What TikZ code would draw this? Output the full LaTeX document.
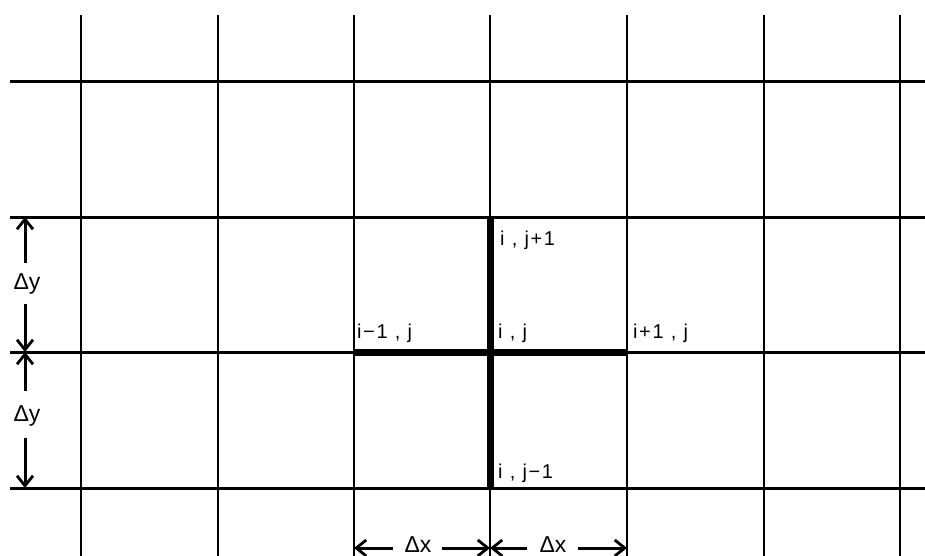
\documentclass[tikz,border=0pt]{standalone}
\usepackage{fontspec}
\setmainfont{Liberation Sans}
\newfontfamily\lblfont[LetterSpace=8]{Liberation Sans}
\usetikzlibrary{arrows.meta}
\begin{document}
\begin{tikzpicture}[x=1pt,y=-1pt,
  vline/.style={line width=1.7pt},
  hline/.style={line width=3pt},
  thick link/.style={line width=7pt},
  lbl/.style={anchor=base west,inner sep=0pt,font=\lblfont\fontsize{20}{22}\selectfont},
  dlbl/.style={inner sep=1pt,font=\fontsize{23}{25}\selectfont},
  dim/.style={line width=3pt,-{Straight Barb[length=10pt,width=16pt,line width=2.8pt]}}]
\useasboundingbox (0,0) rectangle (925,556);
\fill[white] (0,0) rectangle (925,556);
% grid
\foreach \x in {81,218,354,490,627,764,900}
  \draw[vline] (\x,15) -- (\x,556);
\foreach \y in {82,217,352,488}
  \draw[hline] (10,\y) -- (925,\y);
% grid points
\coordinate (c) at (490,352);
\coordinate (n) at (490,217);
\coordinate (s) at (490,488);
\coordinate (w) at (354,352);
\coordinate (e) at (627,352);
\draw[thick link] (n) -- (s);
\draw[thick link] (w) -- (e);
% labels
\node[lbl] (ljp) at (500,245) {i , j+1};
\node[lbl] (lim) at (357,338) {i−1 , j};
\node[lbl] (lij) at (498,338) {i , j};
\node[lbl] (lip) at (633,338) {i+1 , j};
\node[lbl] (ljm) at (498,478) {i , j−1};
% dimension dy
\coordinate (y1) at (25,217);
\coordinate (y2) at (25,352);
\coordinate (y3) at (25,488);
\node[dlbl] (dy1) at (27,284) {Δy};
\node[dlbl] (dy2) at (27,416) {Δy};
\draw[dim] (25,263) -- (y1);
\draw[dim] (25,304) -- (y2);
\draw[dim] (25,391) -- (y2);
\draw[dim] (25,438) -- (y3);
% dimension dx
\coordinate (x1) at (354,548);
\coordinate (x2) at (490,548);
\coordinate (x3) at (627,548);
\node[dlbl] (dx1) at (418,545) {Δx};
\node[dlbl] (dx2) at (553,545) {Δx};
\draw[dim] (393,548) -- (x1);
\draw[dim] (442,548) -- (x2);
\draw[dim] (527,548) -- (x2);
\draw[dim] (578,548) -- (x3);
\end{tikzpicture}
\end{document}
